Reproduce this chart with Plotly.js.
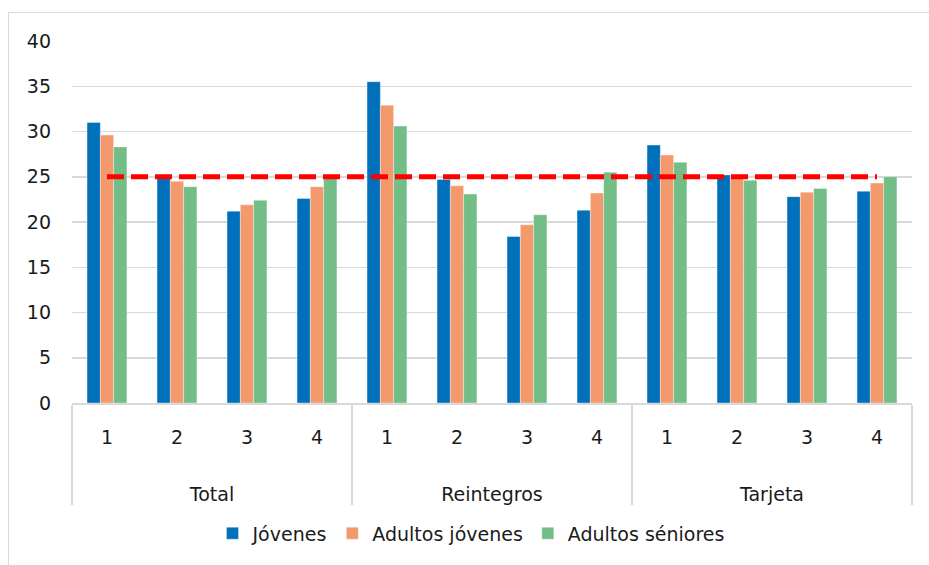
<!DOCTYPE html>
<html>
<head>
<meta charset="utf-8">
<script src="https://cdn.plot.ly/plotly-3.0.1.min.js"></script>
<style>
  html, body { margin: 0; padding: 0; background: #fff; }
  #frame { position: absolute; left: 8px; top: 12px; width: 960px; height: 600px;
           border-top: 1.5px solid #d9d9d9; border-left: 1.5px solid #d9d9d9; }
  #chart { position: absolute; left: 0; top: 0; width: 929px; height: 565px; }
</style>
</head>
<body>
<div id="frame"></div>
<div id="chart"></div>
<script>
const groups = ["Total", "Reintegros", "Tarjeta"];
const quartiles = ["1", "2", "3", "4"];

const jovenes        = [31.0, 24.9, 21.2, 22.6,  35.5, 24.7, 18.4, 21.3,  28.5, 25.2, 22.8, 23.4];
const adultosJovenes = [29.6, 24.5, 21.9, 23.9,  32.9, 24.0, 19.7, 23.2,  27.4, 25.1, 23.3, 24.3];
const adultosSeniores= [28.3, 23.9, 22.4, 24.8,  30.6, 23.1, 20.8, 25.5,  26.6, 24.6, 23.7, 25.0];
const referencia     = [25, 25, 25, 25, 25, 25, 25, 25, 25, 25, 25, 25];

const seriesNames = ["Jóvenes", "Adultos jóvenes", "Adultos séniores"];
const seriesColors = ["#0070BB", "#F3996C", "#73BD86"];

// group labels pushed down with empty lines to mimic the taller two-level axis box
const lvl1 = [], lvl2 = [];
groups.forEach(g => quartiles.forEach(q => { lvl1.push("<br><br>" + g); lvl2.push(q); }));
const xCats = [lvl1, lvl2];

const font = "'DejaVu Sans', sans-serif";
const txtColor = "#1a1a1a";

const data = [jovenes, adultosJovenes, adultosSeniores].map((vals, i) => ({
  type: "bar",
  x: xCats,
  y: vals,
  name: seriesNames[i],
  marker: { color: seriesColors[i], line: { color: "rgba(255,255,255,0.6)", width: 0.6 } },
  hoverinfo: "y+name"
}));

data.push({
  type: "scatter",
  mode: "lines",
  x: xCats,
  y: referencia,
  showlegend: false,
  line: { color: "#FF0000", width: 5, dash: "17px,7px" },
  hoverinfo: "skip"
});

const layout = {
  width: 929, height: 565,
  margin: { l: 72, r: 17, t: 41, b: 162 },
  paper_bgcolor: "rgba(0,0,0,0)",
  plot_bgcolor: "rgba(0,0,0,0)",
  font: { family: font, size: 19, color: txtColor },
  barmode: "group",
  bargap: 0.43,
  bargroupgap: 0,
  showlegend: true,
  legend: {
    orientation: "h",
    x: 0.475, xanchor: "center",
    y: -0.36, yanchor: "middle",
    font: { family: font, size: 19, color: txtColor },
    traceorder: "normal"
  },
  xaxis: {
    type: "multicategory",
    showline: true,
    linecolor: "#d9d9d9",
    linewidth: 1.5,
    showdividers: true,
    dividercolor: "#d9d9d9",
    dividerwidth: 1.5,
    ticks: "",
    ticklabelstandoff: 17,
    tickfont: { family: font, size: 19, color: txtColor },
    showgrid: false
  },
  yaxis: {
    range: [0, 40],
    dtick: 5,
    tick0: 0,
    showgrid: true,
    gridcolor: "#d9d9d9",
    gridwidth: 1.5,
    zeroline: false,
    showline: false,
    ticks: "",
    ticklabelstandoff: 20,
    tickfont: { family: font, size: 19, color: txtColor }
  }
};

Plotly.newPlot("chart", data, layout, { displayModeBar: false, staticPlot: true });
</script>
</body>
</html>
